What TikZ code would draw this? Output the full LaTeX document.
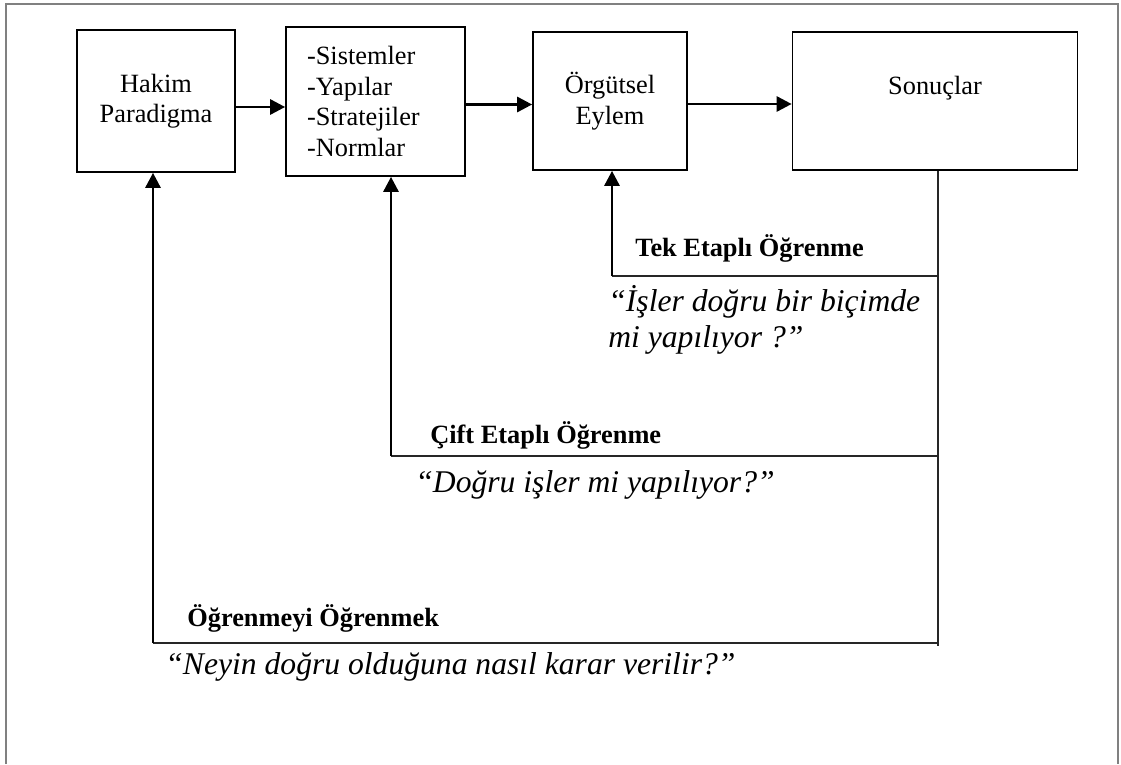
\documentclass[tikz,border=0pt]{standalone}
\usepackage{fontspec}
\setmainfont{Liberation Serif}
\usetikzlibrary{arrows.meta, positioning}

\begin{document}
\begin{tikzpicture}[x=0.02cm, y=-0.02cm, >={Triangle[length=0.3cm, width=0.3cm]},
    kutu/.style={draw, line width=1pt, align=center, font=\fontsize{15}{17.4}\selectfont},
    ok/.style={->, line width=1.6pt},
    cizgi/.style={line width=0.9pt, black!85},
    baslik/.style={anchor=west, inner sep=0pt, font=\fontsize{15}{18}\selectfont\bfseries},
    soru/.style={anchor=west, align=left, inner sep=0pt, font=\fontsize{18}{20.4}\selectfont\itshape}]
    % Çerçeve
    \useasboundingbox (0,0) rectangle (1121,764);
    \draw[gray, line width=0.6pt] (6,764) -- (6,4) -- (1118,4) -- (1118,764);

    % Üst sıradaki kutular
    \node[kutu, minimum width=3.16cm, minimum height=2.84cm] (hakim) at (156,101) {Hakim\\Paradigma};
    \node[kutu, minimum height=2.98cm, text width=2.74cm, inner xsep=0.42cm, align=left] (sistem) at (375.5,101.5)
        {-Sistemler\\-Yapılar\\-Stratejiler\\-Normlar};
    \node[kutu, minimum width=3.08cm, minimum height=2.76cm] (eylem) at (610,101) {Örgütsel\\Eylem};
    \node[kutu, minimum width=5.7cm, minimum height=2.76cm] (sonuc) at (935,101) {Sonuçlar\\\mbox{}};

    % Kutular arası oklar
    \draw[ok] ([yshift=-0.12cm]hakim.east) -- ([yshift=-0.12cm]hakim.east -| sistem.west);
    \draw[ok] ([yshift=-0.06cm]sistem.east) -- ([yshift=-0.06cm]sistem.east -| eylem.west);
    \draw[ok] ([yshift=-0.06cm]eylem.east) -- ([yshift=-0.06cm]eylem.east -| sonuc.west);

    % Sonuçlardan inen geri besleme çizgisi
    \coordinate (sag) at (938,646);
    \draw[cizgi] (sonuc.south -| sag) -- (sag);

    % Tek etaplı öğrenme
    \coordinate (tek) at (612,276);
    \draw[cizgi] (tek -| sag) -- (tek);
    \draw[ok] (tek) -- (tek |- eylem.south);
    \node[baslik] (tekbaslik) at (635,248) {Tek Etaplı Öğrenme};
    \node[soru] (teksoru) at (608,320) {“İşler doğru bir biçimde\\mi yapılıyor ?”};

    % Çift etaplı öğrenme
    \coordinate (cift) at (391,456);
    \draw[cizgi] (cift -| sag) -- (cift);
    \draw[ok] (cift) -- (cift |- sistem.south);
    \node[baslik] (ciftbaslik) at (430,435) {Çift Etaplı Öğrenme};
    \node[soru] (ciftsoru) at (415,485) {“Doğru işler mi yapılıyor?”};

    % Öğrenmeyi öğrenmek
    \coordinate (ogr) at (153,643);
    \draw[cizgi] (ogr -| sag) -- (ogr);
    \draw[ok] (ogr) -- (ogr |- hakim.south);
    \node[baslik] (ogrbaslik) at (187,618) {Öğrenmeyi Öğrenmek};
    \node[soru] (ogrsoru) at (165,667) {“Neyin doğru olduğuna nasıl karar verilir?”};
\end{tikzpicture}
\end{document}
